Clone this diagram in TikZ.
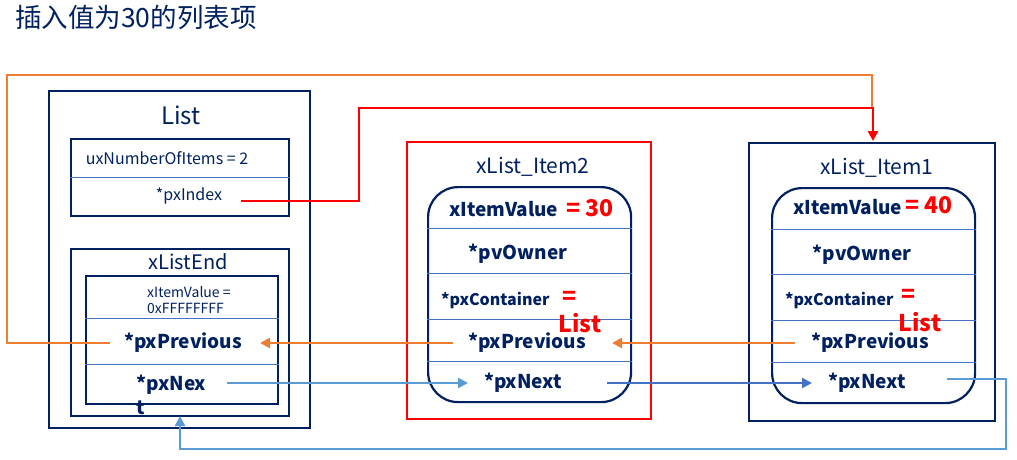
\documentclass[tikz,border=0pt]{standalone}
\usepackage{fontspec}
\setmainfont{Noto Sans CJK SC}
\usetikzlibrary{arrows.meta}
\definecolor{navy}{HTML}{002060}
\definecolor{rowline}{HTML}{4472C4}
\definecolor{linkorange}{HTML}{ED7D31}
\definecolor{linkblue}{HTML}{5B9BD5}
\definecolor{linkdark}{HTML}{4472C4}
\definecolor{linkred}{HTML}{FF0000}
\newcommand{\fs}[1]{\fontsize{#1}{#1}\selectfont}

\begin{document}
\begin{tikzpicture}[x=1pt, y=-1pt,
	box/.style={draw=navy, line width=2.2pt, anchor=north west, inner sep=0pt},
	item/.style={box, rounded corners=30pt},
	row/.style={draw=rowline, line width=0.8pt},
	txt/.style={text=navy, inner sep=0pt},
	fld/.style={txt, font=\bfseries\fs{19}},
	val/.style={text=linkred, inner sep=0pt, font=\bfseries\fs{23}},
	link/.style={line width=2.2pt, -{Triangle[length=10pt,width=10pt]}}]
		\useasboundingbox (0,0) rectangle (1017,459);
		\node[txt, anchor=west, font=\fs{26.5}] (title) at (15,17) {插入值为30的列表项};
		% List
		\node[box, minimum width=261pt, minimum height=337pt] (list) at (48,90) {};
		\node[txt, font=\fs{24}] (listname) at (181,115) {List};
		\node[box, minimum width=218pt, minimum height=77pt] (head) at (70,138) {};
		\draw[row] (head.west |- 0,177) -- (head.east |- 0,177);
		\node[txt, font=\fs{16}] (count) at (167,158) {uxNumberOfItems = 2};
		\node[txt, font=\fs{16}] (index) at (189,196) {*pxIndex};
		\node[box, minimum width=218pt, minimum height=167pt] (endout) at (70,248) {};
		\node[txt, font=\fs{20}] (endname) at (188,262) {xListEnd};
		\node[box, minimum width=192pt, minimum height=128pt] (endin) at (85,275) {};
		\draw[row] (endin.west |- 0,318) -- (endin.east |- 0,318);
		\draw[row] (endin.west |- 0,364) -- (endin.east |- 0,364);
		\node[txt, anchor=west, align=left, font=\fs{14}] (endval) at (147,300) {xItemValue =\\[2pt]0xFFFFFFFF};
		\node[fld] (endprev) at (183,343) {*pxPrevious};
		\node[fld, anchor=west, align=left] (endnext) at (136,395) {*pxNex\\[5pt]t};
		% xList_Item2
		\node[box, draw=linkred, minimum width=244pt, minimum height=277pt] (boxb) at (406,141) {};
		\node[txt, font=\fs{21}] (nameb) at (533,167) {xList\_Item2};
		\node[item, minimum width=203pt, minimum height=215pt] (itemb) at (427,186) {};
		\foreach \y in {228,273,319,361}
			\draw[row] (itemb.west |- 0,\y) -- (itemb.east |- 0,\y);
		\node[fld, anchor=west] (valueb) at (449,209) {xItemValue};
		\node[val, anchor=west] (eqb) at (566,208) {= 30};
		\node[fld] (ownerb) at (518,254) {*pvOwner};
		\node[fld, anchor=west, font=\bfseries\fs{16}] (contb) at (441,300) {*pxContainer};
		\node[val] (ceqb) at (569,298) {=};
		\node[val] (clistb) at (580,323) {List};
		\node[fld] (prevb) at (527,343) {*pxPrevious};
		\node[fld] (nextb) at (523,383) {*pxNext};
		% xList_Item1
		\node[box, minimum width=246pt, minimum height=278pt] (boxa) at (748,142) {};
		\node[txt, font=\fs{21}] (namea) at (877,168) {xList\_Item1};
		\node[item, minimum width=203pt, minimum height=215pt] (itema) at (771,187) {};
		\foreach \y in {229,274,320,362}
			\draw[row] (itema.west |- 0,\y) -- (itema.east |- 0,\y);
		\node[fld, anchor=west] (valuea) at (793,207) {xItemValue};
		\node[val, anchor=west] (eqa) at (905,205) {= 40};
		\node[fld] (ownera) at (862,255) {*pvOwner};
		\node[fld, anchor=west, font=\bfseries\fs{16}] (conta) at (785,300) {*pxContainer};
		\node[val] (ceqa) at (908,296) {=};
		\node[val] (clista) at (920,322) {List};
		\node[fld] (preva) at (870,343) {*pxPrevious};
		\node[fld] (nexta) at (867,383) {*pxNext};
		% link ends
		\coordinate (endprevL) at (110,343);
		\coordinate (endprevR) at (260,343);
		\coordinate (endnextR) at (227,383);
		\coordinate (endbottom) at (180,416);
		\coordinate (indexR) at (241,201);
		\coordinate (boxatop) at (873,141);
		\coordinate (prevbL) at (453,343);
		\coordinate (prevbR) at (612,343);
		\coordinate (nextbL) at (468,383);
		\coordinate (nextbR) at (607,383);
		\coordinate (prevaL) at (795,343);
		\coordinate (nextaL) at (812,383);
		\coordinate (nextaR) at (947,379);
		% pxPrevious links
		\draw[linkorange, line width=2.2pt] (endprevL) -- (7,343) |- (872,75) -- (872,108);
		\draw[link, linkorange] (prevbL) -- (endprevR);
		\draw[link, linkorange] (prevaL) -- (prevbR);
		% pxIndex
		\draw[link, linkred, line width=2.6pt] (indexR) -| (359,108) -| (boxatop);
		% pxNext links
		\draw[link, linkblue] (endnextR) -- (nextbL);
		\draw[link, linkdark] (nextbR) -- (nextaL);
		\draw[link, linkblue] (nextaR) -- (1006,379) |- (180,449) -- (endbottom);
	\end{tikzpicture}
\end{document}
